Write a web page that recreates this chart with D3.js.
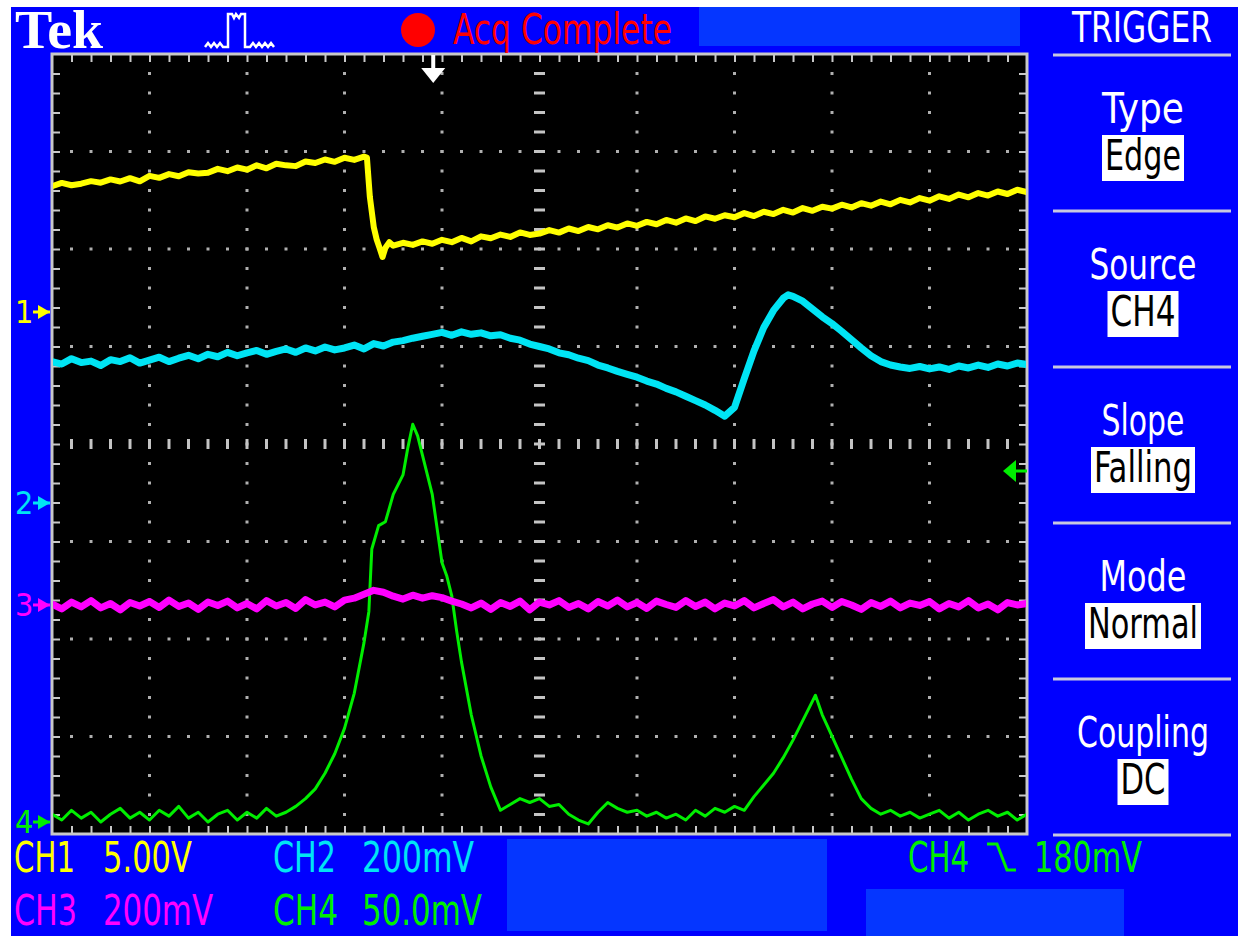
<!DOCTYPE html>
<html>
<head>
<meta charset="utf-8">
<script src="https://cdn.jsdelivr.net/npm/d3@7"></script>
<style>
html, body { margin: 0; padding: 0; background: #fff; }
svg { display: block; }
text { font-family: "Liberation Sans Narrow", "DejaVu Sans Condensed", "Arial Narrow", sans-serif; }
</style>
</head>
<body>
<svg id="scope"></svg>
<script>
const WIDTH = 1238;
const HEIGHT = 936;

// graticule: 10 x 8 divisions
const X_DIVS = 10;
const Y_DIVS = 8;
const LEFT = 52, RIGHT = 1027, TOP = 54, BOTTOM = 834;

// channel settings
const CH_NAMES = ["CH1", "CH2", "CH3", "CH4"];
const CH_SCALE_TEXT = ["5.00V", "200mV", "200mV", "50.0mV"];
const CH_PER_DIV = [5, 200, 200, 50]; // V/div for CH1, mV/div for the others
const CH_OFFSET_DIV = [1.354, -0.605, -1.651, -3.877]; // ground marker, divisions above centre
const CH_COLORS = ["#ffff00", "#00e4f4", "#ff00ff", "#00ee00"];

// trigger settings
const TRIGGER_MENU = ["Type", "Source", "Slope", "Mode", "Coupling"];
const TRIGGER_VALUES = ["Edge", "CH4", "Falling", "Normal", "DC"];
const TRIGGER_LEVEL = 180; // mV on CH4
const TRIGGER_POS = 3.91; // divisions from left

// traces: [time (div), value]
const ch1Data = [
	[0.0, 6.45], [0.1, 6.62], [0.2, 6.50], [0.3, 6.58], [0.4, 6.71], [0.5, 6.63], [0.6, 6.80], [0.7, 6.69], [0.8, 6.86], [0.9, 6.70],
	[1.0, 6.98], [1.1, 6.88], [1.2, 7.07], [1.3, 6.96], [1.4, 7.17], [1.5, 7.10], [1.6, 7.14], [1.7, 7.34], [1.8, 7.22], [1.9, 7.41],
	[2.0, 7.30], [2.1, 7.52], [2.2, 7.37], [2.3, 7.60], [2.4, 7.52], [2.5, 7.48], [2.6, 7.72], [2.7, 7.64], [2.8, 7.82], [2.9, 7.70],
	[3.0, 7.91], [3.1, 7.80], [3.2, 7.97], [3.23, 7.92],
	[3.26, 5.90], [3.30, 4.36], [3.33, 3.72], [3.36, 3.28], [3.39, 2.82], [3.42, 3.30], [3.46, 3.58],
	[3.5, 3.40], [3.6, 3.55], [3.7, 3.44], [3.8, 3.62], [3.9, 3.50], [4.0, 3.70], [4.1, 3.58], [4.2, 3.80], [4.3, 3.62], [4.4, 3.88],
	[4.5, 3.78], [4.6, 3.97], [4.7, 3.85], [4.8, 4.08], [4.9, 3.95], [5.0, 4.02], [5.1, 4.20], [5.2, 4.07], [5.3, 4.28], [5.4, 4.15],
	[5.5, 4.36], [5.6, 4.24], [5.7, 4.45], [5.8, 4.33], [5.9, 4.54], [6.0, 4.42], [6.1, 4.62], [6.2, 4.50], [6.3, 4.72], [6.4, 4.58],
	[6.5, 4.80], [6.6, 4.66], [6.7, 4.90], [6.8, 4.78], [6.9, 4.96], [7.0, 4.86], [7.1, 5.07], [7.2, 4.92], [7.3, 5.14], [7.4, 5.02],
	[7.5, 5.24], [7.6, 5.10], [7.7, 5.33], [7.8, 5.19], [7.9, 5.40], [8.0, 5.30], [8.1, 5.50], [8.2, 5.36], [8.3, 5.58], [8.4, 5.45],
	[8.5, 5.66], [8.6, 5.52], [8.7, 5.75], [8.8, 5.62], [8.9, 5.84], [9.0, 5.71], [9.1, 5.93], [9.2, 5.80], [9.3, 6.02], [9.4, 5.88],
	[9.5, 6.10], [9.6, 5.97], [9.7, 6.18], [9.8, 6.05], [9.9, 6.27], [10.0, 6.15],
];

const ch2Data = [
	[0.0, 290], [0.1, 285], [0.2, 296], [0.3, 288], [0.4, 291], [0.5, 282], [0.6, 294], [0.7, 290], [0.8, 298], [0.9, 287],
	[1.0, 293], [1.1, 299], [1.2, 290], [1.3, 297], [1.4, 303], [1.5, 296], [1.6, 305], [1.7, 300], [1.8, 309], [1.9, 302],
	[2.0, 308], [2.1, 313], [2.2, 305], [2.3, 311], [2.4, 316], [2.5, 309], [2.6, 318], [2.7, 312], [2.8, 320], [2.9, 314],
	[3.0, 318], [3.1, 324], [3.2, 316], [3.3, 327], [3.4, 322], [3.5, 330], [3.6, 333], [3.7, 338], [3.8, 342], [3.9, 346],
	[4.0, 350], [4.1, 344], [4.2, 351], [4.3, 346], [4.4, 349], [4.5, 343], [4.6, 345], [4.7, 338], [4.8, 334], [4.9, 326],
	[5.0, 321], [5.1, 316], [5.2, 308], [5.3, 304], [5.4, 297], [5.5, 292], [5.6, 283], [5.7, 277], [5.8, 270], [5.9, 264],
	[6.0, 258], [6.1, 250], [6.2, 244], [6.3, 235], [6.4, 228], [6.5, 219], [6.6, 210], [6.7, 201], [6.8, 190], [6.9, 178],
	[7.0, 196], [7.1, 255], [7.2, 312], [7.3, 360], [7.4, 395], [7.5, 420], [7.55, 427], [7.6, 424], [7.7, 414], [7.8, 398],
	[7.9, 382], [8.0, 368], [8.1, 352], [8.2, 335], [8.3, 318], [8.4, 302], [8.5, 290], [8.6, 283], [8.7, 279], [8.8, 276],
	[8.9, 280], [9.0, 275], [9.1, 279], [9.2, 274], [9.3, 281], [9.4, 277], [9.5, 283], [9.6, 278], [9.7, 285], [9.8, 281],
	[9.9, 287], [10.0, 284],
];

const ch3Data = [
	[0.0, 2], [0.1, -8], [0.2, 6], [0.3, -4], [0.4, 9], [0.5, -6], [0.6, 3], [0.7, -10], [0.8, 5], [0.9, -2],
	[1.0, 7], [1.1, -5], [1.2, 10], [1.3, -3], [1.4, 4], [1.5, -9], [1.6, 6], [1.7, -1], [1.8, 8], [1.9, -6],
	[2.0, 3], [2.1, -8], [2.2, 9], [2.3, -2], [2.4, 5], [2.5, -7], [2.6, 11], [2.7, 0], [2.8, 6], [2.9, -4],
	[3.0, 10], [3.1, 14], [3.2, 22], [3.3, 30], [3.4, 26], [3.5, 18], [3.6, 12], [3.7, 20], [3.8, 14], [3.9, 19],
	[4.0, 15], [4.1, 8], [4.2, 2], [4.3, -6], [4.4, 4], [4.5, -9], [4.6, 5], [4.7, -3], [4.8, 8], [4.9, -10],
	[5.0, 6], [5.1, 0], [5.2, 9], [5.3, -5], [5.4, 3], [5.5, -8], [5.6, 7], [5.7, -2], [5.8, 10], [5.9, -4],
	[6.0, 5], [6.1, -7], [6.2, 8], [6.3, 1], [6.4, -5], [6.5, 9], [6.6, -3], [6.7, 6], [6.8, -8], [6.9, 4],
	[7.0, -2], [7.1, 9], [7.2, -6], [7.3, 3], [7.4, 11], [7.5, -4], [7.6, 6], [7.7, -8], [7.8, 2], [7.9, 8],
	[8.0, -5], [8.1, 7], [8.2, 0], [8.3, -9], [8.4, 5], [8.5, -3], [8.6, 8], [8.7, -6], [8.8, 4], [8.9, -1],
	[9.0, 7], [9.1, -8], [9.2, 3], [9.3, -4], [9.4, 9], [9.5, -6], [9.6, 2], [9.7, -10], [9.8, 5], [9.9, 0],
	[10.0, 3],
];

const ch4Data = [
	[0.0, 4], [0.1, 1], [0.2, 6], [0.3, 2], [0.4, 5], [0.5, 0], [0.6, 4], [0.7, 7], [0.8, 2], [0.9, 5],
	[1.0, 1], [1.1, 6], [1.2, 3], [1.3, 8], [1.4, 2], [1.5, 5], [1.6, 0], [1.7, 4], [1.8, 6], [1.9, 1],
	[2.0, 5], [2.1, 2], [2.2, 7], [2.3, 3], [2.4, 5], [2.5, 8], [2.6, 12], [2.7, 17], [2.8, 25], [2.9, 35],
	[3.0, 48], [3.1, 66], [3.2, 92], [3.25, 108], [3.28, 140], [3.35, 152], [3.42, 154], [3.5, 168], [3.6, 178], [3.65, 192],
	[3.7, 204], [3.75, 198], [3.8, 188], [3.9, 168], [4.0, 133], [4.05, 126], [4.1, 116], [4.15, 98], [4.2, 82], [4.3, 55],
	[4.4, 34], [4.5, 18], [4.6, 6], [4.7, 9], [4.8, 12], [4.9, 10], [5.0, 12], [5.1, 8], [5.2, 9], [5.3, 4],
	[5.4, 1], [5.5, -1], [5.6, 5], [5.7, 10], [5.8, 7], [5.9, 5], [6.0, 6], [6.1, 3], [6.2, 5], [6.3, 2],
	[6.4, 4], [6.5, 1], [6.6, 6], [6.7, 3], [6.8, 7], [6.9, 5], [7.0, 8], [7.1, 6], [7.2, 13], [7.3, 19],
	[7.4, 25], [7.5, 33], [7.6, 42], [7.7, 52], [7.8, 62], [7.83, 65], [7.9, 55], [8.0, 44], [8.1, 33], [8.2, 22],
	[8.3, 12], [8.4, 7], [8.5, 4], [8.6, 6], [8.7, 3], [8.8, 5], [8.9, 2], [9.0, 4], [9.1, 6], [9.2, 2],
	[9.3, 5], [9.4, 1], [9.5, 4], [9.6, 6], [9.7, 3], [9.8, 5], [9.9, 1], [10.0, 4],
];

const TRACES = [ch1Data, ch2Data, ch3Data, ch4Data];

// text widths (the scope font is narrower than the installed ones)
const MENU_LABEL_W = [82, 107, 83, 87, 132];
const MENU_VALUE_W = [76, 65, 98, 110, 45];
const READOUT_NAME_W = [61, 63, 63, 65];
const READOUT_SCALE_W = [89, 112, 110, 120];

const svg = d3.select("#scope").attr("width", WIDTH).attr("height", HEIGHT);

// squeeze a text horizontally to a given width, around its anchor point
function fit(sel, w) {
	const x = +sel.attr("x");
	const y = +sel.attr("y");
	const sx = w / sel.node().getComputedTextLength();
	return sel.attr("x", 0).attr("y", 0).attr("transform", `translate(${x},${y}) scale(${sx},1)`);
}

const xScale = d3.scaleLinear([0, X_DIVS], [LEFT, RIGHT]);
const divScale = d3.scaleLinear([-Y_DIVS / 2, Y_DIVS / 2], [BOTTOM, TOP]);
// one y scale per channel, from its volts/div and position
const yScales = CH_PER_DIV.map((perDiv, i) => {
	const off = CH_OFFSET_DIV[i];
	return d3.scaleLinear([(-Y_DIVS / 2 - off) * perDiv, (Y_DIVS / 2 - off) * perDiv], [BOTTOM, TOP]);
});

// background
svg.append("rect").attr("x", 11).attr("y", 7).attr("width", WIDTH - 11).attr("height", HEIGHT - 7).attr("fill", "#0000ff");
const panes = [[699, 7, 321, 39], [507, 839, 320, 92], [866, 889, 258, 47]];
svg.selectAll(".pane").data(panes).join("rect").attr("class", "pane")
	.attr("x", d => d[0]).attr("y", d => d[1]).attr("width", d => d[2]).attr("height", d => d[3])
	.attr("fill", "#0536ff");

svg.append("rect").attr("x", LEFT).attr("y", TOP).attr("width", RIGHT - LEFT).attr("height", BOTTOM - TOP).attr("fill", "#000");

// graticule dots and centre dashes
const minorX = d3.range(1, X_DIVS * 5).map(i => i / 5);
const minorY = d3.range(1, Y_DIVS * 5).map(i => i / 5 - Y_DIVS / 2);
const grid = svg.append("g").attr("class", "grid");
const dots = [];
for (let k = 1; k < X_DIVS; ++k) {
	if (k === X_DIVS / 2) continue;
	minorY.forEach(v => dots.push([xScale(k), divScale(v)]));
}
for (let k = -Y_DIVS / 2 + 1; k < Y_DIVS / 2; ++k) {
	if (k === 0) continue;
	minorX.forEach(t => dots.push([xScale(t), divScale(k)]));
}
grid.selectAll(".dot").data(dots).join("rect").attr("class", "dot")
	.attr("x", d => d[0] - 1.5).attr("y", d => d[1] - 1.5).attr("width", 3).attr("height", 3)
	.attr("fill", "#b0b0b0");
grid.selectAll(".hdash").data(minorY).join("rect").attr("class", "hdash")
	.attr("x", xScale(X_DIVS / 2) - 5.5).attr("y", d => divScale(d) - 1.5).attr("width", 11).attr("height", 3)
	.attr("fill", "#c4c4c4");
grid.selectAll(".vdash").data(minorX).join("rect").attr("class", "vdash")
	.attr("x", d => xScale(d) - 1.5).attr("y", divScale(0) - 5).attr("width", 3).attr("height", 10)
	.attr("fill", "#c4c4c4");

// edge ticks drawn with axes
const edgeAxis = (axis, tx, ty) => {
	const g = svg.append("g").attr("transform", `translate(${tx},${ty})`).call(axis);
	g.select(".domain").remove();
	g.selectAll("line").attr("stroke", "#c8c8c8").attr("stroke-width", 2);
	g.selectAll("text").remove();
};
edgeAxis(d3.axisBottom(xScale).tickValues(minorX).tickSize(8).tickFormat(""), 0, TOP);
edgeAxis(d3.axisTop(xScale).tickValues(minorX).tickSize(8).tickFormat(""), 0, BOTTOM);
edgeAxis(d3.axisRight(divScale).tickValues(minorY).tickSize(8).tickFormat(""), LEFT, 0);
edgeAxis(d3.axisLeft(divScale).tickValues(minorY).tickSize(8).tickFormat(""), RIGHT, 0);

svg.append("rect").attr("x", LEFT).attr("y", TOP).attr("width", RIGHT - LEFT).attr("height", BOTTOM - TOP)
	.attr("fill", "none").attr("stroke", "#c8c8c8").attr("stroke-width", 3);

// traces
svg.append("clipPath").attr("id", "screen").append("rect")
	.attr("x", LEFT + 1).attr("y", TOP + 1).attr("width", RIGHT - LEFT - 2).attr("height", BOTTOM - TOP - 2);
const traceWidths = [6, 7, 7, 3];
const order = [0, 1, 3, 2];
svg.append("g").attr("clip-path", "url(#screen)")
	.selectAll("path").data(order).join("path")
	.attr("d", i => d3.line().x(d => xScale(d[0])).y(d => yScales[i](d[1]))(TRACES[i]))
	.attr("fill", "none")
	.attr("stroke", i => CH_COLORS[i])
	.attr("stroke-width", i => traceWidths[i])
	.attr("stroke-linejoin", "round");

// channel ground markers
const markers = svg.append("g");
CH_NAMES.forEach((name, i) => {
	const y = yScales[i](0);
	const c = CH_COLORS[i];
	markers.append("text").attr("x", 15).attr("y", y + 11).attr("font-size", 32).attr("fill", c).text(i + 1);
	markers.append("path").attr("d", `M33,${y}H50`).attr("stroke", c).attr("stroke-width", 3);
	markers.append("path").attr("d", `M38,${y - 7}L50,${y}L38,${y + 7}Z`).attr("fill", c);
});

// trigger level arrow (right edge) and trigger position arrow (top)
const trigY = yScales[3](TRIGGER_LEVEL);
svg.append("path").attr("d", `M1014,${trigY}H1027`).attr("stroke", CH_COLORS[3]).attr("stroke-width", 3);
svg.append("path").attr("d", `M1003,${trigY}L1016,${trigY - 11}L1016,${trigY + 11}Z`).attr("fill", CH_COLORS[3]);
const trigX = xScale(TRIGGER_POS);
svg.append("path").attr("d", `M${trigX},${TOP + 1}V70`).attr("stroke", "#fff").attr("stroke-width", 4);
svg.append("path").attr("d", `M${trigX - 12},68L${trigX + 12},68L${trigX},83Z`).attr("fill", "#fff");

// top status bar
fit(svg.append("text").attr("x", 15).attr("y", 48).attr("font-size", 54).attr("font-weight", "bold")
	.style("font-family", "'Liberation Serif', 'DejaVu Serif', serif").attr("fill", "#fff").text("Tek"), 88);
const pulseIcon = [[205, 47], [208, 43], [211, 47], [214, 43], [217, 47], [220, 43], [223, 47], [228, 47], [228, 14],
	[232, 14], [234, 18], [236, 14], [239, 18], [241, 14], [245, 14], [245, 47], [250, 47], [253, 43], [256, 47],
	[259, 43], [262, 47], [265, 43], [268, 47], [271, 43], [274, 47]];
svg.append("path").attr("d", d3.line()(pulseIcon)).attr("fill", "none").attr("stroke", "#fff").attr("stroke-width", 2.5);
svg.append("circle").attr("cx", 418).attr("cy", 30).attr("r", 17).attr("fill", "#ff0000");
fit(svg.append("text").attr("x", 453).attr("y", 44).attr("font-size", 42).attr("fill", "#ff0000").text("Acq Complete"), 219);

// trigger side menu
const menu = svg.append("g");
fit(menu.append("text").attr("x", 1072).attr("y", 42).attr("font-size", 42).attr("fill", "#fff").text("TRIGGER"), 140);
const slot = (BOTTOM - TOP) / TRIGGER_MENU.length;
d3.range(TRIGGER_MENU.length + 1).forEach(i => {
	menu.append("line").attr("x1", 1053).attr("x2", 1231).attr("y1", TOP + 1 + i * slot).attr("y2", TOP + 1 + i * slot)
		.attr("stroke", "#c8c8e0").attr("stroke-width", 3);
});
TRIGGER_MENU.forEach((label, i) => {
	const y0 = TOP + 1 + i * slot;
	fit(menu.append("text").attr("x", 1143).attr("y", y0 + 68).attr("font-size", 42).attr("text-anchor", "middle")
		.attr("fill", "#fff").text(label), MENU_LABEL_W[i]);
	const w = MENU_VALUE_W[i] + 6;
	menu.append("rect").attr("x", 1143 - w / 2).attr("y", y0 + 80).attr("width", w).attr("height", 46).attr("fill", "#fff");
	fit(menu.append("text").attr("x", 1143).attr("y", y0 + 115).attr("font-size", 42).attr("text-anchor", "middle")
		.attr("fill", "#000").text(TRIGGER_VALUES[i]), MENU_VALUE_W[i]);
});

// bottom readouts
const readout = svg.append("g").attr("font-size", 42);
const colX = [14, 273];
const rowY = [872, 925];
CH_NAMES.forEach((name, i) => {
	const x = colX[i % 2];
	const y = rowY[Math.floor(i / 2)];
	fit(readout.append("text").attr("x", x).attr("y", y).attr("fill", CH_COLORS[i]).text(name), READOUT_NAME_W[i]);
	fit(readout.append("text").attr("x", x + 89).attr("y", y).attr("fill", CH_COLORS[i]).text(CH_SCALE_TEXT[i]), READOUT_SCALE_W[i]);
});
fit(readout.append("text").attr("x", 908).attr("y", 872).attr("fill", CH_COLORS[3]).text(CH_NAMES[3]), 61);
readout.append("path").attr("d", "M987,844H997L1007,870H1016").attr("fill", "none").attr("stroke", CH_COLORS[3]).attr("stroke-width", 3);
fit(readout.append("text").attr("x", 1034).attr("y", 872).attr("fill", CH_COLORS[3]).text(`${TRIGGER_LEVEL}mV`), 108);
</script>
</body>
</html>
